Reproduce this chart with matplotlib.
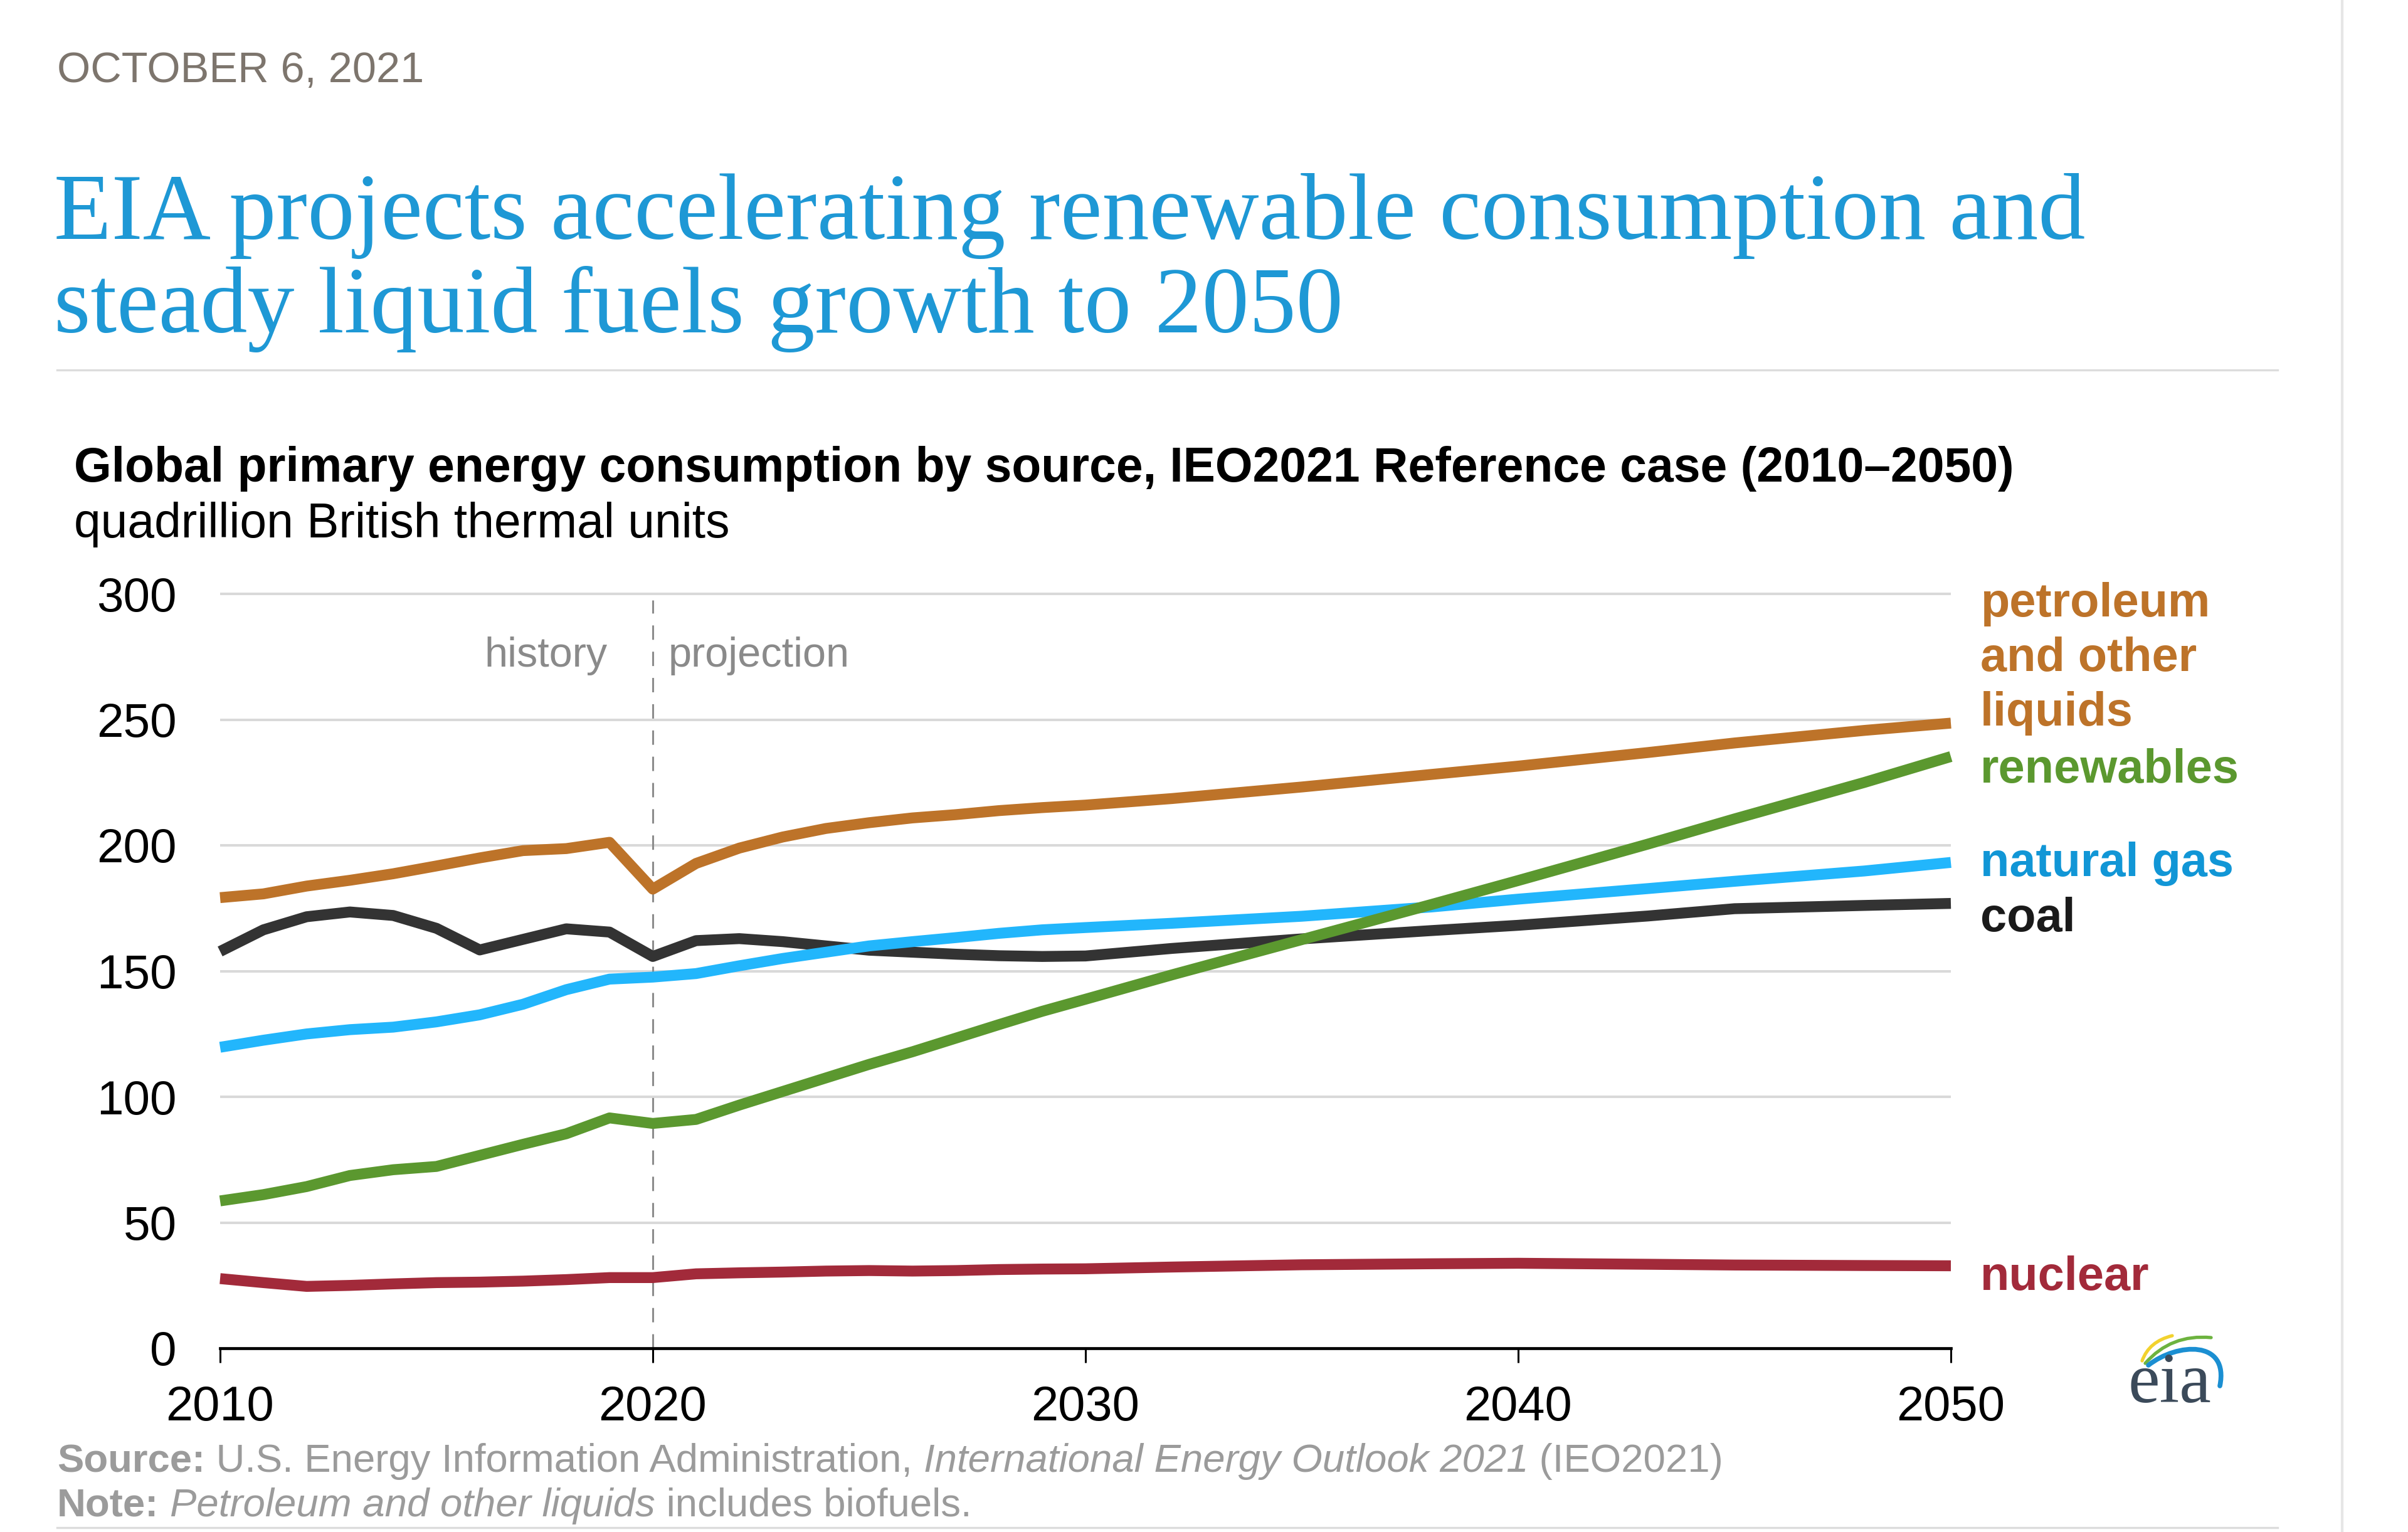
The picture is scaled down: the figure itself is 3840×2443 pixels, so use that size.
import matplotlib
matplotlib.use("Agg")
import matplotlib.pyplot as plt
from matplotlib.path import Path
from matplotlib.patches import PathPatch
from matplotlib.lines import Line2D

# ---------------- data ----------------
years = [2010, 2011, 2012, 2013, 2014, 2015, 2016, 2017, 2018, 2019,
         2020, 2021, 2022, 2023, 2024, 2025, 2026, 2027, 2028, 2029,
         2030, 2032, 2035, 2038, 2040, 2043, 2045, 2048, 2050]

petroleum = [179.2, 180.7, 183.8, 186.1, 188.7, 191.8, 195.0, 197.9, 198.7, 201.2,
             182.6, 192.8, 198.9, 203.3, 206.7, 209.0, 210.9, 212.2, 213.8, 215.0,
             216.0, 218.6, 223.2, 228.2, 231.5, 236.9, 240.7, 245.7, 248.6]

renewables = [58.6, 61.1, 64.3, 68.7, 71.0, 72.3, 76.7, 81.1, 85.3, 91.6,
              89.4, 91.0, 96.7, 102.1, 107.5, 112.9, 117.9, 123.3, 128.7, 134.0,
              138.8, 148.5, 162.5, 176.5, 186.0, 200.5, 210.5, 225.0, 235.3]

natural_gas = [119.7, 122.5, 125.0, 126.7, 127.7, 129.8, 132.6, 136.8, 142.6, 146.8,
               147.6, 149.0, 152.1, 155.0, 157.5, 160.0, 161.7, 163.3, 165.0, 166.4,
               167.3, 169.0, 171.8, 175.5, 178.6, 182.8, 185.7, 189.8, 193.2]

coal = [157.8, 166.4, 171.6, 173.5, 172.1, 167.0, 158.4, 162.6, 166.8, 165.5,
        155.8, 162.1, 162.9, 161.7, 160.0, 158.3, 157.5, 156.7, 156.1, 155.8,
        156.0, 159.0, 162.8, 166.1, 168.2, 171.9, 174.8, 176.1, 176.9]

nuclear = [27.7, 26.1, 24.6, 25.0, 25.6, 26.1, 26.3, 26.7, 27.3, 28.1,
           28.1, 29.6, 30.0, 30.3, 30.7, 30.9, 30.7, 30.9, 31.3, 31.5,
           31.6, 32.3, 33.2, 33.6, 33.8, 33.4, 33.1, 32.9, 32.8]

x_ticks = [2010, 2020, 2030, 2040, 2050]
y_ticks = [0, 50, 100, 150, 200, 250, 300]

label_petroleum = ["petroleum", "and other", "liquids"]
label_renewables = ["renewables"]
label_gas = ["natural gas"]
label_coal = ["coal"]
label_nuclear = ["nuclear"]

date_text = "OCTOBER 6, 2021"
title_lines = ["EIA projects accelerating renewable consumption and",
               "steady liquid fuels growth to 2050"]
chart_title = "Global primary energy consumption by source, IEO2021 Reference case (2010\u20132050)"
chart_units = "quadrillion British thermal units"

# ---------------- style ----------------
W, H = 3840, 2443
DPI = 100
SANS = "Liberation Sans"
SERIF = "Liberation Serif"

C_PET = "#bd7329"
C_REN = "#5b982f"
C_GAS = "#22b6fc"
C_GAS_TXT = "#1196d6"
C_COAL = "#333333"
C_NUC = "#a22a3a"

fig = plt.figure(figsize=(W / DPI, H / DPI), dpi=DPI)
fig.patch.set_facecolor("white")
renderer = fig.canvas.get_renderer()


def fxy(x, y):
    return x / W, 1 - y / H


def ftext(x, y, s, **kw):
    kw.setdefault("va", "baseline")
    kw.setdefault("ha", "left")
    return fig.text(*fxy(x, y), s, **kw)


def fit_width(t, target):
    bb = t.get_window_extent(renderer)
    t.set_fontsize(t.get_fontsize() * target / bb.width)


# ---------------- axes ----------------
PX_PER_UNIT = (2150 - 947) / 300.0
ytop = 301
ax_left, ax_right, ax_bottom = 351, 3111, 2150
ax = fig.add_axes([ax_left / W, 1 - ax_bottom / H,
                   (ax_right - ax_left) / W, ytop * PX_PER_UNIT / H])
ax.set_xlim(2010, 2050)
ax.set_ylim(0, ytop)
ax.set_facecolor("none")

for s in ["top", "right", "left"]:
    ax.spines[s].set_visible(False)
ax.spines["bottom"].set_color("black")
ax.spines["bottom"].set_linewidth(3.4)
ax.spines["bottom"].set_zorder(6)

ax.set_yticks(y_ticks)
ax.set_xticks(x_ticks)
ax.set_yticklabels([str(v) for v in y_ticks])
ax.set_xticklabels([str(v) for v in x_ticks])
ax.tick_params(axis="y", length=0, pad=50, labelsize=55, labelcolor="black")
ax.tick_params(axis="x", length=16.5, width=2.2, direction="out", pad=25,
               labelsize=56, labelcolor="black", color="black")
for lab in ax.get_xticklabels() + ax.get_yticklabels():
    lab.set_family(SANS)

for v in y_ticks[1:]:
    ax.axhline(v, color="#d9d9d9", lw=2.9, zorder=1)

# history / projection divider
ax.plot([2020, 2020], [0, 297.5], color="#8c8c8c", lw=2.2, dashes=(7.5, 6.2), zorder=2)

lw = 12.5
series = [(nuclear, C_NUC), (coal, C_COAL), (natural_gas, C_GAS),
          (renewables, C_REN), (petroleum, C_PET)]
for vals, col in series:
    ax.plot(years, vals, color=col, lw=lw, solid_joinstyle="round",
            solid_capstyle="butt", clip_on=False, zorder=4)

# ---------------- text ----------------
t = ftext(91, 131, date_text, family=SANS, fontsize=49, color="#7d756d")
fit_width(t, 585)

t1 = ftext(86, 381, title_lines[0], family=SERIF, fontsize=105, color="#1e98d5")
fit_width(t1, 3240)
ftext(86, 530, title_lines[1], family=SERIF, fontsize=t1.get_fontsize(), color="#1e98d5")

t = ftext(118, 768, chart_title, family=SANS, fontsize=55, fontweight="bold", color="black")
fit_width(t, 3093)
t = ftext(118, 857, chart_units, family=SANS, fontsize=55, color="black")
fit_width(t, 1045)

ftext(969, 1063, "history", family=SANS, fontsize=48, color="#8a8a8a", ha="right")
ftext(1066, 1063, "projection", family=SANS, fontsize=48, color="#8a8a8a")

LAB_X = 3158
LAB_FS = 54.5
for s, yb in zip(label_petroleum, [983, 1070, 1157]):
    ftext(LAB_X, yb, s, family=SANS, fontsize=LAB_FS, fontweight="bold", color=C_PET)
ftext(LAB_X, 1248, label_renewables[0], family=SANS, fontsize=LAB_FS, fontweight="bold", color=C_REN)
ftext(LAB_X, 1397, label_gas[0], family=SANS, fontsize=LAB_FS, fontweight="bold", color=C_GAS_TXT)
ftext(LAB_X, 1485, label_coal[0], family=SANS, fontsize=LAB_FS, fontweight="bold", color="#1a1a1a")
ftext(LAB_X, 2057, label_nuclear[0], family=SANS, fontsize=LAB_FS, fontweight="bold", color=C_NUC)


# footer (runs of mixed styles)
def draw_runs(x, y, parts, size, color, target=None):
    objs = []
    cur = x
    for txt, weight, style in parts:
        o = ftext(cur, y, txt, family=SANS, fontsize=size, fontweight=weight,
                  fontstyle=style, color=color)
        cur += o.get_window_extent(renderer).width
        objs.append(o)
    if target is not None:
        scale = target / (cur - x)
        cur = x
        for o in objs:
            o.set_fontsize(size * scale)
            o.set_position(fxy(cur, y))
            cur += o.get_window_extent(renderer).width
    return objs[0].get_fontsize()


fs = draw_runs(91, 2347, [("Source:", "bold", "normal"),
                          (" U.S. Energy Information Administration, ", "normal", "normal"),
                          ("International Energy Outlook 2021", "normal", "italic"),
                          (" (IEO2021)", "normal", "normal")],
               45, "#9b9b9b", target=2657)
draw_runs(91, 2418, [("Note:", "bold", "normal"),
                     (" ", "normal", "normal"),
                     ("Petroleum and other liquids", "normal", "italic"),
                     (" includes biofuels.", "normal", "normal")],
          fs, "#9b9b9b")

# rules
fig.add_artist(Line2D([91 / W, 3632 / W], [1 - 590 / H] * 2, color="#dcdcdc", lw=2.4))
fig.add_artist(Line2D([91 / W, 3632 / W], [1 - 2436 / H] * 2, color="#dcdcdc", lw=2.4))
fig.add_artist(Line2D([3735 / W] * 2, [0, 1], color="#e6e6e6", lw=3))

# eia logo
ftext(3393, 2236, "eia", family=SERIF, fontsize=82, color="#3b4a5a")


def curve(pts, codes, color, lwid):
    verts = [(x, H - y) for x, y in pts]
    p = PathPatch(Path(verts, codes), facecolor="none", edgecolor=color, lw=lwid,
                  transform=None, capstyle="round")
    fig.add_artist(p)


curve([(3416, 2170), (3427, 2139), (3464, 2130)], [Path.MOVETO, Path.CURVE3, Path.CURVE3], "#f2d22e", 3.8)
curve([(3421, 2174), (3462, 2127), (3526, 2133)], [Path.MOVETO, Path.CURVE3, Path.CURVE3], "#6db33f", 3.8)
curve([(3426, 2177), (3472, 2141), (3555, 2136), (3540, 2210)],
      [Path.MOVETO, Path.CURVE4, Path.CURVE4, Path.CURVE4], "#1b8fd2", 5.5)

fig.savefig("out.png", dpi=DPI, facecolor="white")
